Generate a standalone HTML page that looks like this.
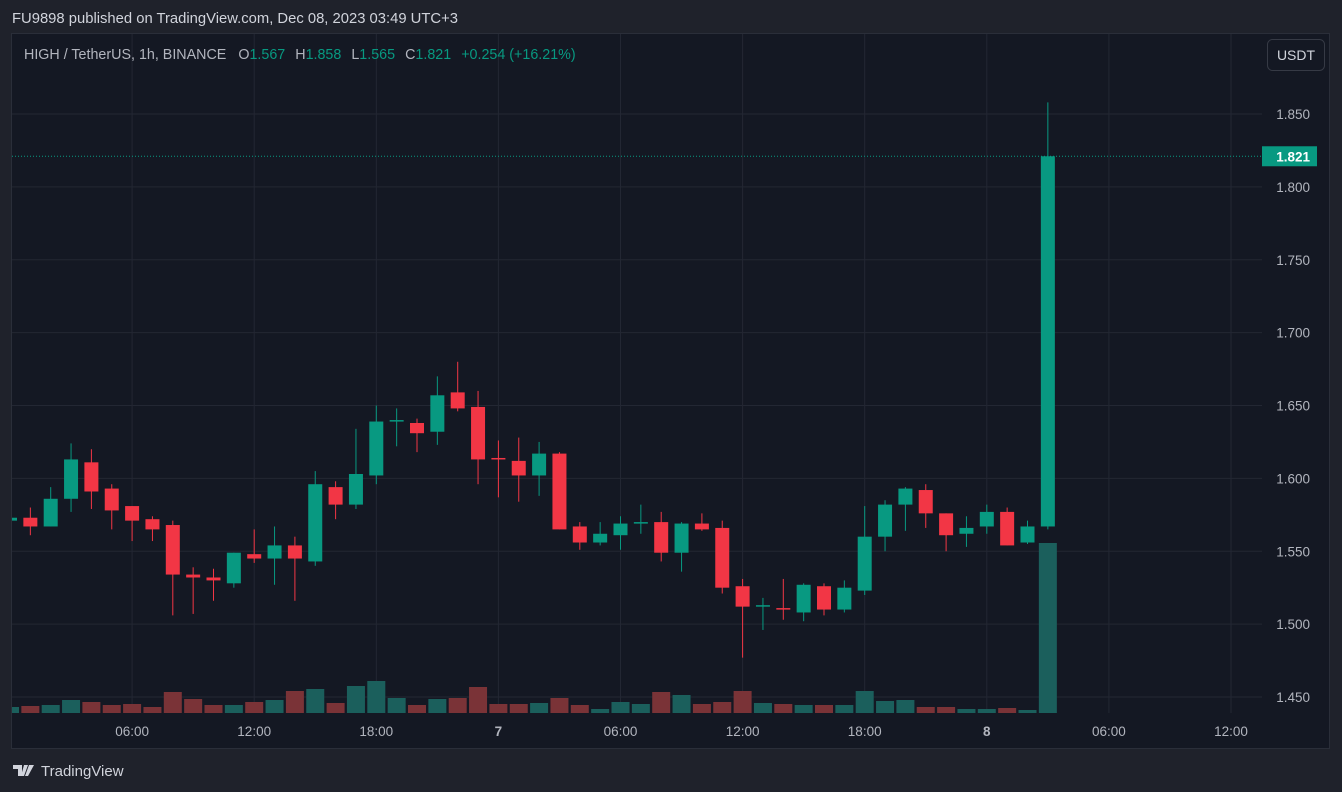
<!DOCTYPE html>
<html><head><meta charset="utf-8"><style>
html,body{margin:0;padding:0;background:#1f222b;width:1342px;height:792px;overflow:hidden;font-family:"Liberation Sans",sans-serif}
svg{display:block}
</style></head><body>
<svg id="c" width="1342" height="792">
<defs><clipPath id="plot"><rect x="12" y="34" width="1250" height="680"/></clipPath></defs>
<rect x="0" y="0" width="1342" height="792" fill="#1f222b"/>
<text x="12" y="23" fill="#d1d4dc" font-size="14.8">FU9898 published on TradingView.com, Dec 08, 2023 03:49 UTC+3</text>
<rect x="11.5" y="33.5" width="1318" height="715" fill="#141823" stroke="#2a2e39"/>
<g id="grid"></g>
<g clip-path="url(#plot)"><g id="vol"></g>
<g id="candles"></g></g>
<g id="axis"></g>
<g id="taxis"></g>
<text x="24" y="59" font-size="14.3" fill="#b2b5be">HIGH / TetherUS, 1h, BINANCE <tspan dx="8">O</tspan><tspan fill="#089981">1.567</tspan><tspan dx="10">H</tspan><tspan fill="#089981">1.858</tspan><tspan dx="10">L</tspan><tspan fill="#089981">1.565</tspan><tspan dx="10">C</tspan><tspan fill="#089981">1.821</tspan><tspan dx="10" fill="#089981">+0.254 (+16.21%)</tspan></text>
<rect x="1267.5" y="39.5" width="57" height="31" rx="5" fill="#141823" stroke="#363a45"/>
<text x="1296" y="60" text-anchor="middle" font-size="14" fill="#d1d4dc">USDT</text>
<g>
<path d="M13 765h9v11h-4v-7h-5z M24 765h4l-4 11h-3z M29 765h5l-6 11h-3z" fill="#d1d4dc"/>
<text x="41" y="776" font-size="15" fill="#d1d4dc">TradingView</text>
</g>
</svg>
<script>
const opens=[1.571,1.573,1.567,1.586,1.611,1.593,1.581,1.572,1.568,1.534,1.532,1.528,1.548,1.545,1.554,1.543,1.594,1.582,1.602,1.639,1.638,1.632,1.659,1.649,1.614,1.612,1.602,1.617,1.567,1.556,1.561,1.569,1.570,1.549,1.569,1.566,1.526,1.512,1.511,1.508,1.526,1.510,1.523,1.560,1.582,1.592,1.576,1.562,1.567,1.577,1.556,1.567];
const highs=[1.574,1.580,1.594,1.624,1.620,1.596,1.581,1.574,1.571,1.539,1.538,1.549,1.565,1.567,1.560,1.605,1.598,1.634,1.650,1.648,1.641,1.670,1.680,1.660,1.626,1.628,1.625,1.618,1.570,1.570,1.574,1.582,1.577,1.570,1.576,1.571,1.531,1.518,1.531,1.528,1.528,1.530,1.581,1.585,1.594,1.596,1.576,1.574,1.582,1.580,1.571,1.858];
const lows=[1.570,1.561,1.567,1.577,1.579,1.565,1.557,1.557,1.506,1.507,1.516,1.525,1.542,1.527,1.516,1.540,1.572,1.579,1.596,1.622,1.618,1.623,1.646,1.596,1.587,1.584,1.588,1.565,1.551,1.554,1.551,1.562,1.543,1.536,1.564,1.521,1.477,1.496,1.503,1.502,1.506,1.508,1.520,1.550,1.564,1.566,1.550,1.553,1.562,1.554,1.555,1.565];
const closes=[1.573,1.567,1.586,1.613,1.591,1.578,1.571,1.565,1.534,1.532,1.530,1.549,1.545,1.554,1.545,1.596,1.582,1.603,1.639,1.640,1.631,1.657,1.648,1.613,1.613,1.602,1.617,1.565,1.556,1.562,1.569,1.570,1.549,1.569,1.565,1.525,1.512,1.513,1.510,1.527,1.510,1.525,1.560,1.582,1.593,1.576,1.561,1.566,1.577,1.554,1.567,1.821];
const volumes=[6,7,8,13,11,8,9,6,21,14,8,8,11,13,22,24,10,27,32,15,8,14,15,26,9,9,10,15,8,4,11,9,21,18,9,11,22,10,9,8,8,8,22,12,13,6,6,4,4,5,3,170];
const priceTicks=[1.450,1.500,1.550,1.600,1.650,1.700,1.750,1.800,1.850];
const timeIdx=[6,12,18,24,30,36,42,48,54,60];
const timeLabels=["06:00","12:00","18:00","7","06:00","12:00","18:00","8","06:00","12:00"];
const lastPrice=1.821;
const NS="http://www.w3.org/2000/svg";
const X0=10,STEP=20.35,PTOP=114,PPX=1457.5,PMAX=1.85,VBASE=713,VPX=1;
const xS=i=>X0+i*STEP;
const yS=p=>PTOP+(PMAX-p)*PPX;
const vS=v=>v*VPX;
function mk(parent,tag,attrs){const e=document.createElementNS(NS,tag);for(const k in attrs)e.setAttribute(k,attrs[k]);document.getElementById(parent).appendChild(e);return e;}
priceTicks.forEach(p=>{
 const l=mk('grid','line',{x1:12,x2:1262,y1:yS(p),y2:yS(p),stroke:'#232733','stroke-width':1});
 
 
 const t=mk('axis','text',{x:1310,y:yS(p)+5,'text-anchor':'end','font-size':13.5,fill:'#b2b5be'});
 t.textContent=p.toFixed(3);
 
 
});
timeIdx.forEach((ix,k)=>{
 const x=xS(ix);
 const l=mk('grid','line',{x1:x,x2:x,y1:34,y2:713,stroke:'#232733','stroke-width':1});
 
 
 const bold=timeLabels[k].length<3;
 const t=mk('taxis','text',{x:x,y:736,'text-anchor':'middle','font-size':13.5,fill:'#b2b5be','font-weight':bold?'bold':'normal'});
 t.textContent=timeLabels[k];
 
 
});
volumes.forEach((v,i)=>{
 const up=closes[i]>=opens[i];
 const h=vS(v);
 const r=mk('vol','rect',{x:xS(i)-9,y:VBASE-h,width:18,height:h,fill:up?'#1b5f5c':'#7a3337'});
 
 
});
opens.forEach((o,i)=>{
 const c=closes[i],up=c>=o,col=up?'#089981':'#f23645',x=xS(i);
 const w=mk('candles','line',{x1:x,x2:x,y1:yS(highs[i]),y2:yS(lows[i]),stroke:col,'stroke-width':1});
 
 
 const top=yS(Math.max(o,c)),h=Math.max(1.5,Math.abs(yS(o)-yS(c)));
 const b=mk('candles','rect',{x:x-7,y:top,width:14,height:h,fill:col});
 
 
});
const ly=yS(lastPrice);
const pl=mk('axis','line',{x1:12,x2:1262,y1:ly,y2:ly,stroke:'#089981','stroke-width':1,'stroke-dasharray':'1 2'});


const pb=mk('axis','rect',{x:1262,y:ly-10,width:55,height:20,fill:'#089981'});


const pt=mk('axis','text',{x:1310,y:ly+5,'text-anchor':'end','font-size':13.5,'font-weight':'bold',fill:'#ffffff'});
pt.textContent=lastPrice.toFixed(3);


</script>
</body></html>
